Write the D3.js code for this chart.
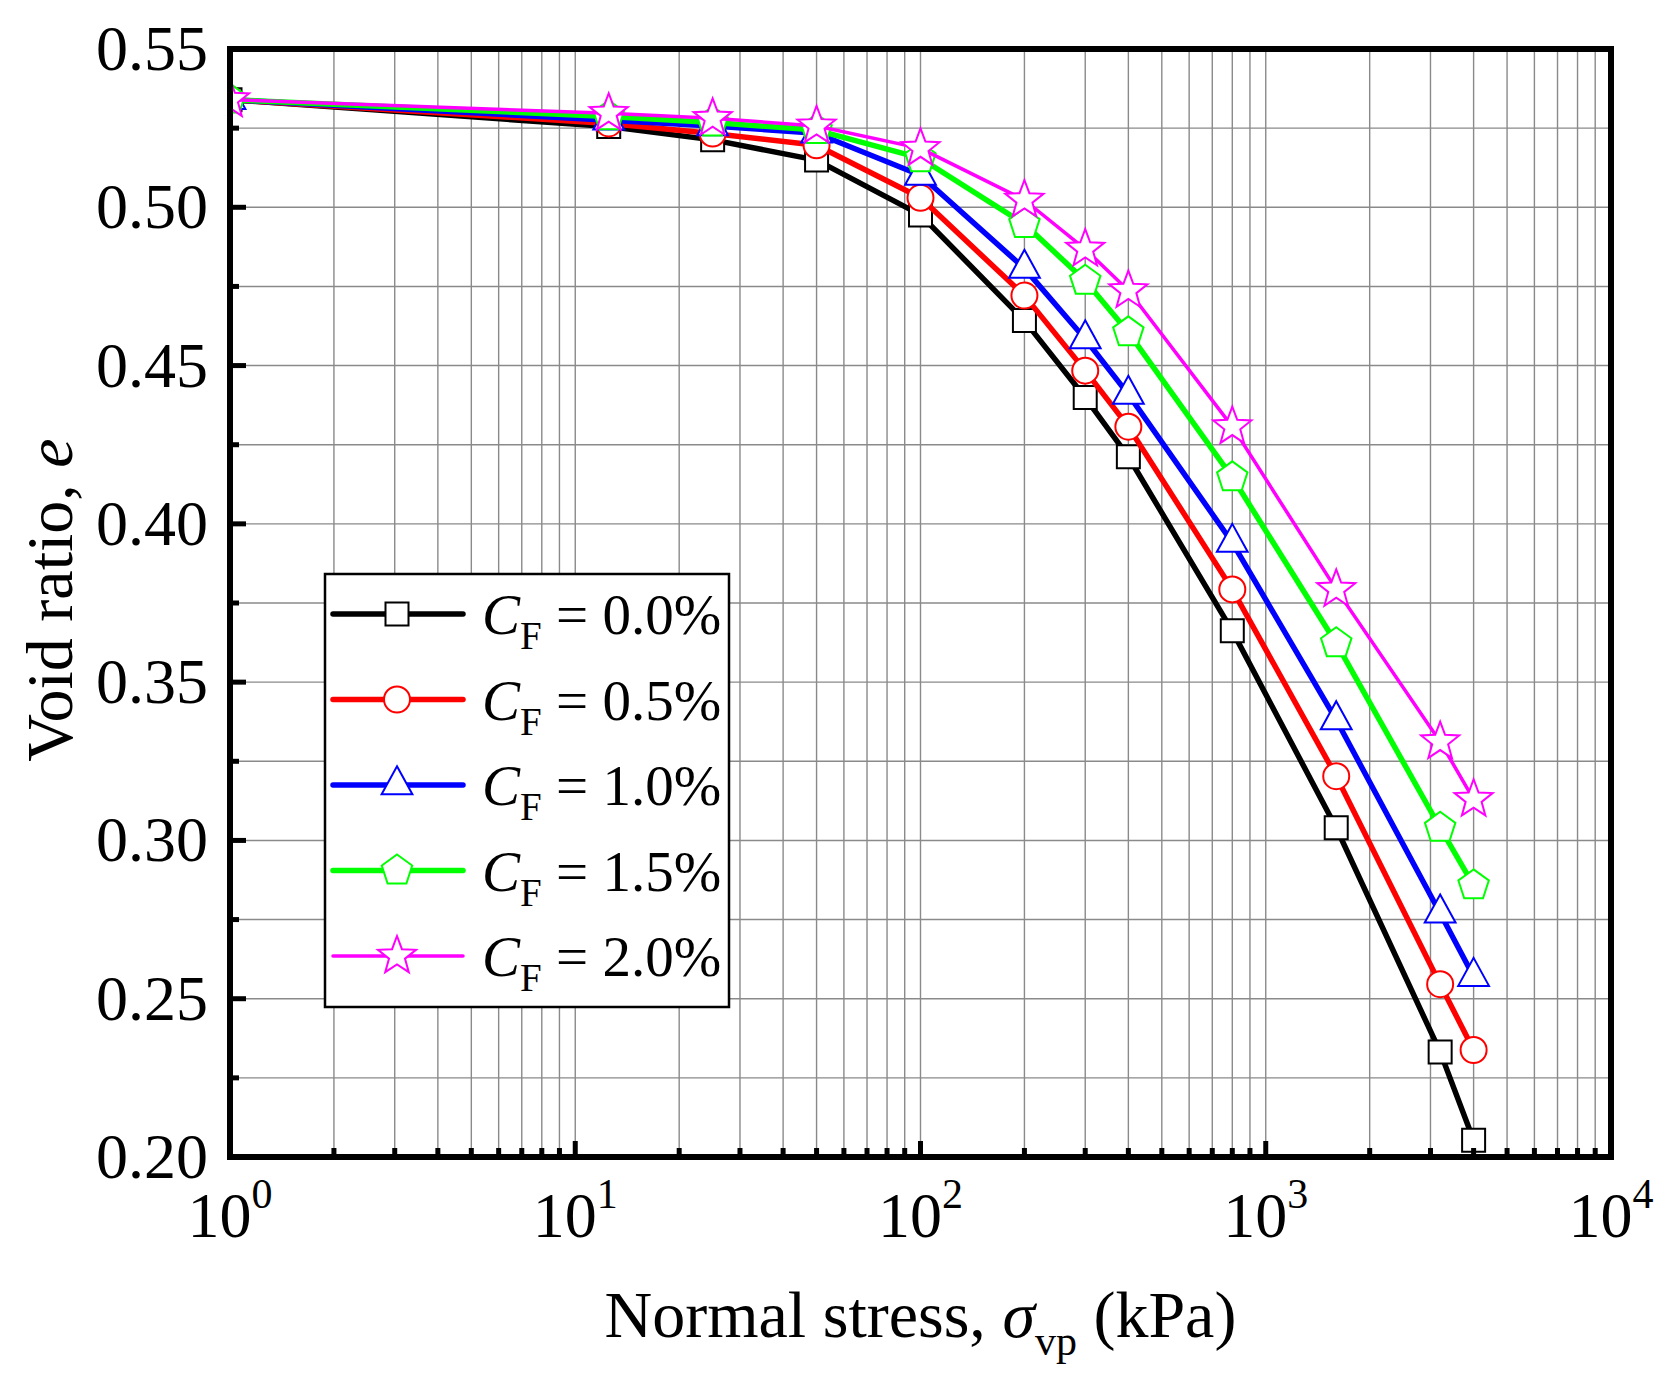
<!DOCTYPE html>
<html>
<head>
<meta charset="utf-8">
<script src="https://cdn.jsdelivr.net/npm/d3@7"></script>
<style>
  body { margin: 0; background: #fff; }
  svg { display: block; font-family: "Liberation Serif", "Times New Roman", serif; }
</style>
</head>
<body>
<script>
// normal stress (kPa) at each loading step
const stress = [1, 12.5, 25, 50, 100, 200, 300, 400, 800, 1600, 3200, 4000];

// void ratio for each fibre content
const e00 = [0.534, 0.5255, 0.5213, 0.5149, 0.4976, 0.4642, 0.4399, 0.4212, 0.3662, 0.304, 0.2332, 0.2053];
const e05 = [0.534, 0.5265, 0.5233, 0.5196, 0.503, 0.4721, 0.4484, 0.4307, 0.3793, 0.3203, 0.2546, 0.2338];
const e10 = [0.534, 0.5275, 0.5257, 0.5234, 0.5101, 0.4807, 0.4584, 0.4409, 0.3941, 0.3381, 0.277, 0.257];
const e15 = [0.534, 0.5287, 0.5268, 0.5244, 0.5155, 0.4947, 0.4768, 0.4605, 0.4147, 0.3623, 0.304, 0.2858];
const e20 = [0.534, 0.5297, 0.5281, 0.5257, 0.5186, 0.5023, 0.4868, 0.4737, 0.4307, 0.3793, 0.3312, 0.313];

const seriesLabels = ["0.0%", "0.5%", "1.0%", "1.5%", "2.0%"];
const seriesValues = [e00, e05, e10, e15, e20];
const seriesColors = ["#000000", "#ff0000", "#0000ff", "#00ff00", "#ff00ff"];

// y axis: labelled every 0.05, minor tick between
const yMajor = [0.2, 0.25, 0.3, 0.35, 0.4, 0.45, 0.5, 0.55];

const width = 1671;
const height = 1390;
const margin = { top: 49, right: 60, bottom: 233, left: 230 };

const svg = d3.select("body")
  .append("svg")
  .attr("width", width)
  .attr("height", height);

svg.append("rect").attr("width", width).attr("height", height).attr("fill", "#fff");

const x = d3.scaleLog()
  .domain([1, 10000])
  .range([margin.left, width - margin.right]);

const y = d3.scaleLinear()
  .domain([0.2, 0.55])
  .range([height - margin.bottom, margin.top]);

const [x0, x1] = x.range();
const [y0, y1] = y.range(); // y0 bottom, y1 top

// custom marker shapes (Origin style)
function polygon(context, pts) {
  pts.forEach((p, i) => (i ? context.lineTo(p[0], p[1]) : context.moveTo(p[0], p[1])));
  context.closePath();
}
const squareSym = { draw(c, s) { const h = s / 2; polygon(c, [[-h, -h], [h, -h], [h, h], [-h, h]]); } };
const circleSym = { draw(c, s) { c.moveTo(s / 2, 0); c.arc(0, 0, s / 2, 0, 2 * Math.PI); } };
const triangleSym = { draw(c, s) {
  const w = s * 1.1, h = s;
  polygon(c, [[0, -h * 2 / 3], [w / 2, h / 3], [-w / 2, h / 3]]);
} };
const pentagonSym = { draw(c, s) {
  const r = s / 2;
  polygon(c, d3.range(5).map((i) => {
    const a = -Math.PI / 2 + i * 2 * Math.PI / 5;
    return [r * Math.cos(a), r * Math.sin(a)];
  }));
} };
const starSym = { draw(c, s) {
  const r = s / 2, ri = r * 0.42;
  polygon(c, d3.range(10).map((i) => {
    const a = -Math.PI / 2 + i * Math.PI / 5;
    const rr = i % 2 ? ri : r;
    return [rr * Math.cos(a), rr * Math.sin(a)];
  }));
} };
const markerTypes = [squareSym, circleSym, triangleSym, pentagonSym, starSym];
const markerSizes = [23, 26, 28, 32, 40];
const lineWidths = [5.5, 5.5, 5.5, 5.5, 3.5];

function markerPath(i) {
  const p = d3.path();
  markerTypes[i].draw(p, markerSizes[i]);
  return p.toString();
}

// ticks / grid positions
const xTicks = x.ticks().filter((v) => v > 1 && v < 10000);
const isMajorX = (v) => Math.abs(Math.log10(v) - Math.round(Math.log10(v))) < 1e-9;
const yMinor = d3.pairs(yMajor).map(([a, b]) => (a + b) / 2);
const yInner = yMajor.slice(1, -1).map((v) => ({ v, major: true }))
  .concat(yMinor.map((v) => ({ v, major: false })));

const grid = svg.append("g").attr("stroke", "#8a8a8a").attr("stroke-width", 1.4);
grid.selectAll("line.gx")
  .data(xTicks)
  .join("line")
  .attr("x1", (d) => x(d)).attr("x2", (d) => x(d))
  .attr("y1", y0).attr("y2", y1);
grid.selectAll("line.gy")
  .data(yInner)
  .join("line")
  .attr("x1", x0).attr("x2", x1)
  .attr("y1", (d) => y(d.v)).attr("y2", (d) => y(d.v));

// data
svg.append("clipPath").attr("id", "plot-clip")
  .append("rect")
  .attr("x", x0).attr("y", y1)
  .attr("width", x1 - x0).attr("height", y0 - y1);

const plot = svg.append("g").attr("clip-path", "url(#plot-clip)");

const line = d3.line()
  .x((d) => x(d[0]))
  .y((d) => y(d[1]));

seriesValues.forEach((vals, i) => {
  const pts = stress.map((s, j) => [s, vals[j]]);
  const g = plot.append("g");
  g.append("path")
    .datum(pts)
    .attr("d", line)
    .attr("fill", "none")
    .attr("stroke", seriesColors[i])
    .attr("stroke-width", lineWidths[i])
    .attr("stroke-linejoin", "round");
  g.selectAll("path.mk")
    .data(pts)
    .join("path")
    .attr("class", "mk")
    .attr("d", markerPath(i))
    .attr("transform", (d) => `translate(${x(d[0])},${y(d[1])})`)
    .attr("fill", "#fff")
    .attr("stroke", seriesColors[i])
    .attr("stroke-width", 2);
});

// ticks (inward)
const ticks = svg.append("g").attr("stroke", "#000").attr("stroke-width", 5);
ticks.selectAll("line.tx")
  .data(xTicks)
  .join("line")
  .attr("x1", (d) => x(d)).attr("x2", (d) => x(d))
  .attr("y1", y0).attr("y2", (d) => y0 - (isMajorX(d) ? 16 : 9));
ticks.selectAll("line.ty")
  .data(yInner)
  .join("line")
  .attr("x1", x0).attr("x2", (d) => x0 + (d.major ? 16 : 9))
  .attr("y1", (d) => y(d.v)).attr("y2", (d) => y(d.v));

// frame
svg.append("rect")
  .attr("x", x0).attr("y", y1)
  .attr("width", x1 - x0).attr("height", y0 - y1)
  .attr("fill", "none")
  .attr("stroke", "#000")
  .attr("stroke-width", 6);

// tick labels
svg.append("g").selectAll("text")
  .data(yMajor)
  .join("text")
  .attr("x", x0 - 22)
  .attr("y", (d) => y(d) + 21)
  .attr("text-anchor", "end")
  .style("font-size", "64px")
  .text(d3.format(".2f"));

const xl = svg.append("g").selectAll("text")
  .data(x.ticks().filter(isMajorX))
  .join("text")
  .attr("x", (d) => x(d))
  .attr("y", y0 + 80)
  .attr("text-anchor", "middle")
  .style("font-size", "64px");
xl.append("tspan").text("10");
xl.append("tspan")
  .attr("dy", -29)
  .style("font-size", "42px")
  .text((d) => Math.round(Math.log10(d)));

// axis titles
const xt = svg.append("text")
  .attr("x", (x0 + x1) / 2)
  .attr("y", 1337)
  .attr("text-anchor", "middle")
  .style("font-size", "66px");
xt.append("tspan").text("Normal stress, ");
xt.append("tspan").style("font-style", "italic").text("σ");
xt.append("tspan").attr("dy", 18).style("font-size", "42px").text("vp");
xt.append("tspan").attr("dy", -18).text(" (kPa)");

const yt = svg.append("text")
  .attr("transform", `translate(72,${(y0 + y1) / 2 - 3}) rotate(-90)`)
  .attr("text-anchor", "middle")
  .style("font-size", "66px");
yt.append("tspan").text("Void ratio, ");
yt.append("tspan").style("font-style", "italic").text("e");

// legend
const legend = svg.append("g");
legend.append("rect")
  .attr("x", 325).attr("y", 574)
  .attr("width", 404).attr("height", 433)
  .attr("fill", "#fff")
  .attr("stroke", "#000")
  .attr("stroke-width", 2.5);

const rowY = d3.scaleLinear().domain([0, 4]).range([614, 956]);
seriesLabels.forEach((lab, i) => {
  const yy = rowY(i);
  legend.append("line")
    .attr("x1", 333).attr("x2", 463)
    .attr("y1", yy).attr("y2", yy)
    .attr("stroke", seriesColors[i])
    .attr("stroke-width", lineWidths[i])
    .attr("stroke-linecap", "round");
  legend.append("path")
    .attr("d", markerPath(i))
    .attr("transform", `translate(397,${yy})`)
    .attr("fill", "#fff")
    .attr("stroke", seriesColors[i])
    .attr("stroke-width", 2);
  const t = legend.append("text")
    .attr("x", 482)
    .attr("y", yy + 20)
    .style("font-size", "57px");
  t.append("tspan").style("font-style", "italic").text("C");
  t.append("tspan").attr("dy", 15).style("font-size", "39px").text("F");
  t.append("tspan").attr("dy", -15).text(" = " + lab);
});
</script>
</body>
</html>
